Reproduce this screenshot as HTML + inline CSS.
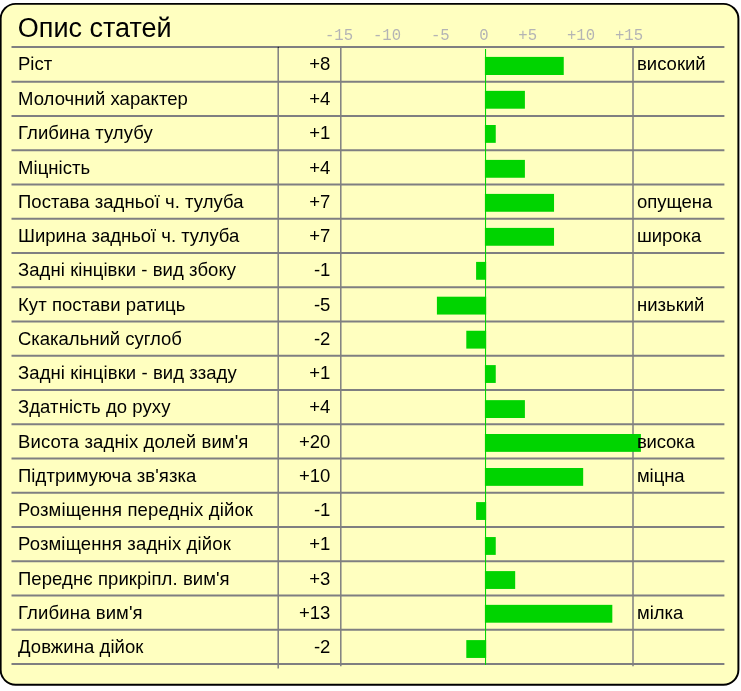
<!DOCTYPE html>
<html><head><meta charset="utf-8"><title>Опис статей</title>
<style>
html,body{margin:0;padding:0;background:#fff;}
body{width:741px;height:691px;overflow:hidden;}
svg{display:block;}
text{font-family:"Liberation Sans",Arial,sans-serif;fill:#000;}
.t{font-size:18.5px;}
.title{font-size:27.0px;}
.ax{font-family:"Liberation Mono","Courier New",monospace;font-size:15.6px;fill:#b4b4b4;text-anchor:end;}
.r{text-anchor:end;}
</style></head><body>
<svg width="741" height="691" viewBox="0 0 741 691">
<rect x="0.64" y="3.87" width="737.76" height="680.93" rx="15" ry="15" fill="#ffffc0" stroke="#000" stroke-width="1.95"/>

<line x1="278.20" y1="47.00" x2="278.20" y2="668.60" stroke="#7f7f81" stroke-width="1.5"/>
<line x1="340.80" y1="47.00" x2="340.80" y2="666.30" stroke="#7f7f81" stroke-width="1.5"/>
<line x1="633.00" y1="47.00" x2="633.00" y2="666.30" stroke="#7f7f81" stroke-width="1.5"/>
<line x1="11.50" y1="47.00" x2="724.40" y2="47.00" stroke="#7f7f81" stroke-width="1.9"/>
<line x1="11.50" y1="81.70" x2="724.40" y2="81.70" stroke="#7f7f81" stroke-width="1.9"/>
<line x1="11.50" y1="115.95" x2="724.40" y2="115.95" stroke="#7f7f81" stroke-width="1.9"/>
<line x1="11.50" y1="150.20" x2="724.40" y2="150.20" stroke="#7f7f81" stroke-width="1.9"/>
<line x1="11.50" y1="184.45" x2="724.40" y2="184.45" stroke="#7f7f81" stroke-width="1.9"/>
<line x1="11.50" y1="218.70" x2="724.40" y2="218.70" stroke="#7f7f81" stroke-width="1.9"/>
<line x1="11.50" y1="252.95" x2="724.40" y2="252.95" stroke="#7f7f81" stroke-width="1.9"/>
<line x1="11.50" y1="287.20" x2="724.40" y2="287.20" stroke="#7f7f81" stroke-width="1.9"/>
<line x1="11.50" y1="321.45" x2="724.40" y2="321.45" stroke="#7f7f81" stroke-width="1.9"/>
<line x1="11.50" y1="355.70" x2="724.40" y2="355.70" stroke="#7f7f81" stroke-width="1.9"/>
<line x1="11.50" y1="389.95" x2="724.40" y2="389.95" stroke="#7f7f81" stroke-width="1.9"/>
<line x1="11.50" y1="424.20" x2="724.40" y2="424.20" stroke="#7f7f81" stroke-width="1.9"/>
<line x1="11.50" y1="458.45" x2="724.40" y2="458.45" stroke="#7f7f81" stroke-width="1.9"/>
<line x1="11.50" y1="492.70" x2="724.40" y2="492.70" stroke="#7f7f81" stroke-width="1.9"/>
<line x1="11.50" y1="526.95" x2="724.40" y2="526.95" stroke="#7f7f81" stroke-width="1.9"/>
<line x1="11.50" y1="561.20" x2="724.40" y2="561.20" stroke="#7f7f81" stroke-width="1.9"/>
<line x1="11.50" y1="595.45" x2="724.40" y2="595.45" stroke="#7f7f81" stroke-width="1.9"/>
<line x1="11.50" y1="629.70" x2="724.40" y2="629.70" stroke="#7f7f81" stroke-width="1.9"/>
<line x1="11.50" y1="663.95" x2="724.40" y2="663.95" stroke="#7f7f81" stroke-width="1.9"/>
<line x1="485.55" y1="49.00" x2="485.55" y2="664.95" stroke="#00d400" stroke-width="1.05"/>
<rect x="484.90" y="56.90" width="78.85" height="18.1" fill="#00d400"/>
<rect x="484.90" y="90.85" width="40.00" height="17.85" fill="#00d400"/>
<rect x="484.90" y="125.00" width="10.85" height="17.85" fill="#00d400"/>
<rect x="484.90" y="159.90" width="40.00" height="17.85" fill="#00d400"/>
<rect x="484.90" y="193.90" width="69.14" height="17.85" fill="#00d400"/>
<rect x="484.90" y="227.90" width="69.14" height="17.85" fill="#00d400"/>
<rect x="476.10" y="261.90" width="10.05" height="17.85" fill="#00d400"/>
<rect x="436.90" y="296.70" width="49.25" height="17.85" fill="#00d400"/>
<rect x="466.30" y="330.75" width="19.85" height="17.85" fill="#00d400"/>
<rect x="484.90" y="365.10" width="10.85" height="17.85" fill="#00d400"/>
<rect x="484.90" y="400.15" width="40.00" height="17.85" fill="#00d400"/>
<rect x="484.90" y="434.00" width="156.00" height="17.85" fill="#00d400"/>
<rect x="484.90" y="468.00" width="98.28" height="17.85" fill="#00d400"/>
<rect x="476.10" y="502.10" width="10.05" height="17.85" fill="#00d400"/>
<rect x="484.90" y="537.05" width="10.85" height="17.85" fill="#00d400"/>
<rect x="484.90" y="571.10" width="30.28" height="17.85" fill="#00d400"/>
<rect x="484.90" y="604.85" width="127.42" height="17.85" fill="#00d400"/>
<rect x="466.30" y="640.10" width="19.85" height="17.85" fill="#00d400"/>
<circle cx="278.3" cy="47.4" r="0.7" fill="#222"/>
<text class="title" x="17.85" y="37.1">Опис статей</text>
<text class="ax" x="353" y="40.4">-15</text>
<text class="ax" x="401" y="40.4">-10</text>
<text class="ax" x="449.7" y="40.4">-5</text>
<text class="ax" x="488.5" y="40.4">0</text>
<text class="ax" x="537" y="40.4">+5</text>
<text class="ax" x="595" y="40.4">+10</text>
<text class="ax" x="643" y="40.4">+15</text>
<text class="t" x="18.0" y="70.00">Ріст</text>
<text class="t r" x="330.4" y="70.00">+8</text>
<text class="t" x="637.0" y="70.00">високий</text>
<text class="t" x="18.0" y="105.10" textLength="169.86" lengthAdjust="spacing">Молочний характер</text>
<text class="t r" x="330.4" y="105.10">+4</text>
<text class="t" x="18.0" y="139.35" textLength="134.66" lengthAdjust="spacing">Глибина тулубу</text>
<text class="t r" x="330.4" y="139.35">+1</text>
<text class="t" x="18.0" y="173.60" textLength="72.21" lengthAdjust="spacing">Міцність</text>
<text class="t r" x="330.4" y="173.60">+4</text>
<text class="t" x="18.0" y="207.85" textLength="225.49" lengthAdjust="spacing">Постава задньої ч. тулуба</text>
<text class="t r" x="330.4" y="207.85">+7</text>
<text class="t" x="637.0" y="207.85">опущена</text>
<text class="t" x="18.0" y="242.10" textLength="221.30" lengthAdjust="spacing">Ширина задньої ч. тулуба</text>
<text class="t r" x="330.4" y="242.10">+7</text>
<text class="t" x="637.0" y="242.10" textLength="64.25" lengthAdjust="spacing">широка</text>
<text class="t" x="18.0" y="276.35" textLength="218.06" lengthAdjust="spacing">Задні кінцівки - вид збоку</text>
<text class="t r" x="330.4" y="276.35">-1</text>
<text class="t" x="18.0" y="310.60" textLength="167.37" lengthAdjust="spacing">Кут постави ратиць</text>
<text class="t r" x="330.4" y="310.60">-5</text>
<text class="t" x="637.0" y="310.60">низький</text>
<text class="t" x="18.0" y="344.85" textLength="163.82" lengthAdjust="spacing">Скакальний суглоб</text>
<text class="t r" x="330.4" y="344.85">-2</text>
<text class="t" x="18.0" y="379.10" textLength="218.73" lengthAdjust="spacing">Задні кінцівки - вид ззаду</text>
<text class="t r" x="330.4" y="379.10">+1</text>
<text class="t" x="18.0" y="413.35" textLength="152.42" lengthAdjust="spacing">Здатність до руху</text>
<text class="t r" x="330.4" y="413.35">+4</text>
<text class="t" x="18.0" y="447.60" textLength="230.36" lengthAdjust="spacing">Висота задніх долей вим'я</text>
<text class="t r" x="330.4" y="447.60">+20</text>
<text class="t" x="637.0" y="447.60" textLength="57.70" lengthAdjust="spacing">висока</text>
<text class="t" x="18.0" y="481.85" textLength="178.36" lengthAdjust="spacing">Підтримуюча зв'язка</text>
<text class="t r" x="330.4" y="481.85">+10</text>
<text class="t" x="637.0" y="481.85" textLength="47.54" lengthAdjust="spacing">міцна</text>
<text class="t" x="18.0" y="516.10" textLength="234.92" lengthAdjust="spacing">Розміщення передніх дійок</text>
<text class="t r" x="330.4" y="516.10">-1</text>
<text class="t" x="18.0" y="550.35" textLength="212.82" lengthAdjust="spacing">Розміщення задніх дійок</text>
<text class="t r" x="330.4" y="550.35">+1</text>
<text class="t" x="18.0" y="584.60" textLength="211.62" lengthAdjust="spacing">Переднє прикріпл. вим'я</text>
<text class="t r" x="330.4" y="584.60">+3</text>
<text class="t" x="18.0" y="618.85" textLength="124.62" lengthAdjust="spacing">Глибина вим'я</text>
<text class="t r" x="330.4" y="618.85">+13</text>
<text class="t" x="637.0" y="618.85">мілка</text>
<text class="t" x="18.0" y="653.10" textLength="125.42" lengthAdjust="spacing">Довжина дійок</text>
<text class="t r" x="330.4" y="653.10">-2</text>
</svg>
</body></html>
